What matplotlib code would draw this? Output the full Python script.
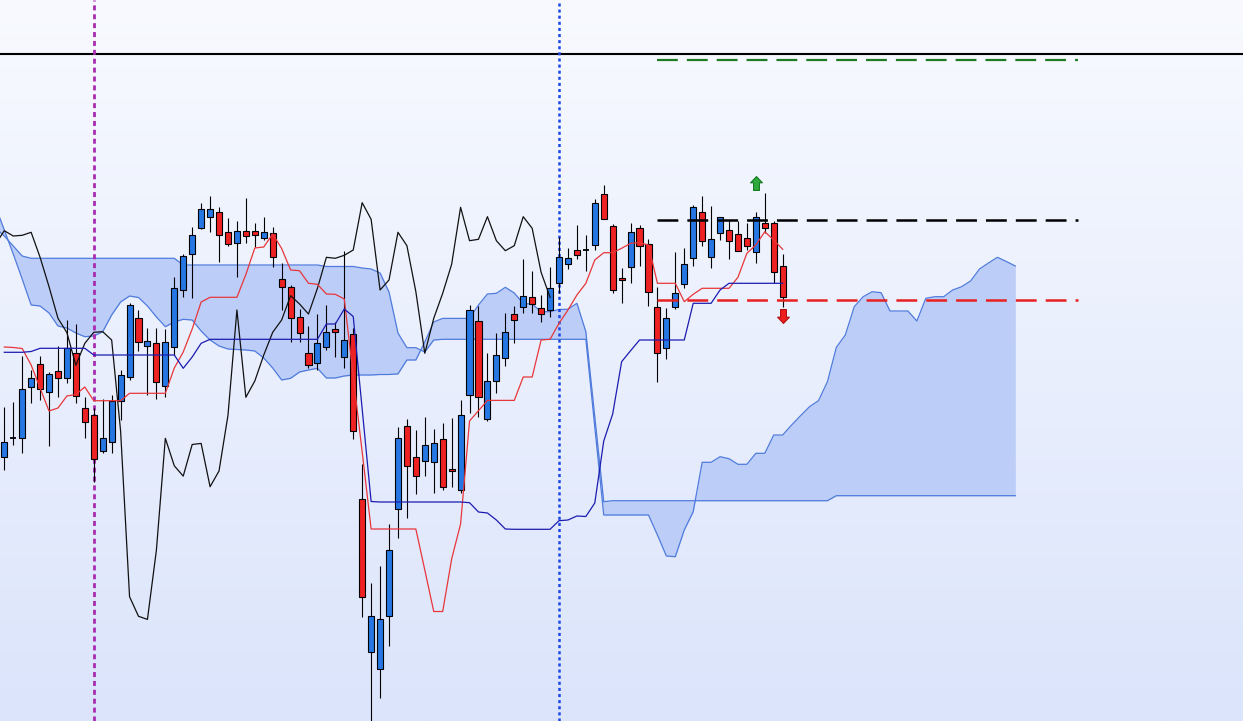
import numpy as np
import matplotlib.pyplot as plt
from matplotlib.colors import LinearSegmentedColormap
from matplotlib.path import Path

plt.rcParams['lines.scale_dashes'] = False

# candles (index 0..87)
opens = [264.3, 282.7, 283.3, 333.7, 356.7, 329.0, 350.3, 342.7, 367.7, 313.3,
         305.7, 270.0, 278.7, 320.0, 344.3, 402.7, 375.0, 377.7, 335.0, 373.7,
         430.7, 466.7, 492.7, 503.7, 509.3, 489.3, 477.7, 490.3, 490.3, 482.7,
         487.7, 441.7, 433.7, 404.0, 367.7, 357.7, 373.7, 391.7, 364.0, 387.0,
         221.8, 68.6, 52.0, 104.7, 212.1, 294.8, 263.8, 259.7, 258.6, 281.7,
         251.7, 231.0, 326.0, 399.7, 301.7, 339.7, 362.7, 406.7, 413.7, 423.7,
         412.7, 411.0, 437.7, 456.7, 470.7, 471.0, 476.0, 526.7, 495.3, 442.7,
         453.7, 492.7, 476.7, 413.7, 372.7, 413.7, 437.0, 462.7, 508.7, 464.3,
         487.7, 490.7, 486.7, 482.7, 468.7, 497.7, 497.7, 455.3]
highs = [314.3, 319.3, 365.0, 351.0, 365.0, 349.3, 375.3, 401.0, 397.0, 324.3,
         312.7, 322.0, 326.0, 351.0, 417.7, 411.0, 393.3, 393.3, 392.0, 444.3,
         467.0, 494.3, 518.3, 525.0, 514.3, 503.3, 500.0, 522.7, 498.3, 504.3,
         494.3, 458.0, 436.0, 412.0, 395.3, 407.0, 416.0, 399.3, 470.0, 393.0,
         256.9, 138.1, 155.3, 197.3, 294.1, 302.4, 290.7, 304.1, 292.4, 297.7,
         302.7, 321.0, 416.0, 415.0, 367.7, 388.3, 408.3, 415.0, 461.7, 450.0,
         426.0, 453.7, 484.3, 472.7, 496.0, 486.0, 521.7, 536.0, 497.0, 452.7,
         498.3, 495.7, 481.7, 433.7, 413.0, 468.7, 472.7, 516.0, 525.0, 515.0,
         504.3, 500.0, 500.0, 498.0, 509.3, 527.7, 500.0, 466.7]
lows = [251.0, 276.0, 267.7, 317.7, 321.0, 275.3, 324.3, 338.3, 317.7, 283.3,
        239.0, 268.3, 268.3, 301.0, 341.0, 370.3, 326.0, 322.0, 323.7, 366.0,
        424.3, 422.7, 491.7, 489.3, 459.3, 475.3, 444.3, 477.7, 474.3, 481.0,
        454.3, 411.0, 379.3, 379.3, 352.7, 351.0, 371.0, 364.3, 353.0, 282.0,
        104.4, 0.0, 22.8, 75.4, 182.9, 203.5, 227.0, 245.0, 227.6, 231.0,
        234.3, 227.7, 308.3, 304.3, 300.3, 327.7, 355.3, 378.3, 407.7, 408.3,
        399.3, 404.3, 427.7, 451.7, 462.0, 450.3, 471.0, 501.7, 427.7, 418.3,
        438.3, 455.0, 415.3, 339.3, 362.0, 411.7, 433.3, 455.0, 475.3, 452.7,
        481.0, 462.0, 470.3, 471.0, 457.7, 488.0, 437.7, 414.3]
closes = [278.7, 282.7, 331.7, 342.7, 331.7, 346.7, 342.7, 372.7, 325.0, 298.7,
          261.7, 282.7, 320.3, 345.7, 415.7, 378.7, 379.7, 339.0, 378.7, 432.7,
          464.7, 485.7, 511.7, 511.7, 486.0, 476.7, 490.3, 485.0, 485.7, 488.7,
          463.7, 434.3, 402.7, 388.3, 355.7, 377.7, 388.7, 389.3, 381.0, 290.0,
          124.3, 104.7, 101.6, 170.8, 282.7, 255.2, 244.9, 276.5, 277.6, 234.3,
          250.0, 305.7, 411.0, 323.7, 340.0, 366.0, 388.7, 401.0, 425.3, 417.0,
          407.0, 432.7, 463.7, 462.7, 465.7, 471.0, 518.3, 501.7, 431.0, 441.0,
          488.7, 475.3, 429.3, 367.7, 402.7, 427.7, 456.7, 513.7, 480.3, 481.7,
          504.3, 480.3, 470.3, 475.3, 504.3, 492.7, 448.7, 423.7]

# ichimoku lines
tenkan = [374.0, 373.5, 372.5, 356.0, 333.0, 310.0, 313.0, 325.0, 326.5, 334.0,
          320.3, 320.3, 320.3, 320.3, 327.7, 327.7, 327.7, 327.7, 327.7, 353.0,
          369.0, 392.0, 419.0, 423.7, 423.7, 423.7, 423.7, 446.5, 473.0, 474.0,
          487.0, 472.5, 451.0, 450.3, 437.7, 436.7, 427.0, 426.7, 422.0, 345.0,
          269.0, 192.0, 192.0, 192.0, 192.0, 192.0, 192.0, 151.0, 109.5, 109.5,
          162.0, 197.0, 300.0, 310.3, 320.6, 320.6, 320.6, 320.6, 344.0, 344.0,
          381.0, 381.7, 397.7, 411.0, 426.0, 437.7, 461.0, 468.3, 468.3, 472.7,
          477.7, 478.3, 476.0, 437.7, 437.7, 437.7, 419.3, 426.7, 432.7, 432.7,
          432.7, 432.7, 443.7, 467.7, 476.0, 489.3, 481.0, 471.7]
kijun = [368.7, 368.7, 368.7, 369.5, 372.7, 372.7, 372.7, 372.7, 372.7, 372.7,
         366.0, 366.0, 366.0, 366.0, 366.0, 366.0, 366.0, 366.0, 366.0, 366.0,
         352.7, 364.0, 377.7, 381.7, 381.7, 381.7, 381.7, 381.7, 381.7, 381.7,
         381.7, 381.7, 381.7, 381.7, 381.7, 381.7, 397.0, 397.0, 412.0, 404.5,
         312.0, 219.5, 219.0, 219.0, 219.0, 219.0, 219.0, 219.0, 219.0, 219.0,
         219.0, 219.0, 218.3, 209.0, 208.0, 201.0, 192.0, 191.7, 191.7, 191.7,
         191.7, 191.7, 200.3, 201.0, 205.0, 204.5, 218.0, 280.0, 307.0, 359.3,
         370.3, 381.0, 381.0, 381.0, 381.0, 381.0, 381.0, 417.7, 417.7, 417.7,
         431.0, 437.7, 437.7, 437.7, 437.7, 437.7, 437.7, 437.7]

# senkou spans, index -1..113 (shifted forward)
span_a = [515.0, 491.0, 467.0, 442.0, 416.0, 415.0, 408.0, 395.0, 393.0, 388.0,
          384.3, 385.0, 389.3, 406.0, 419.0, 425.0, 423.5, 415.0, 404.0, 394.3,
          399.0, 401.7, 401.0, 390.0, 381.0, 375.0, 372.0, 371.5, 371.0, 370.0,
          363.0, 353.0, 341.0, 342.7, 349.0, 351.0, 352.7, 343.0, 343.0, 345.0,
          346.0, 346.0, 346.0, 346.5, 346.5, 347.1, 361.0, 361.0, 379.0, 399.0,
          402.6, 402.6, 402.6, 402.6, 416.0, 427.0, 427.7, 433.7, 428.0, 417.5,
          417.0, 409.3, 409.3, 411.5, 411.7, 417.7, 389.3, 304.0, 219.3, 220.3,
          220.3, 220.3, 220.3, 220.3, 220.3, 220.3, 220.3, 220.3, 220.3, 220.3,
          220.3, 220.3, 220.3, 220.3, 220.3, 220.3, 220.3, 220.3, 220.3, 220.3,
          220.3, 220.3, 220.3, 220.3, 225.3, 225.3, 225.3, 225.3, 225.3, 225.3,
          225.3, 225.3, 225.3, 225.3, 225.3, 225.3, 225.3, 225.3, 225.3, 225.3,
          225.3, 225.3, 225.3, 225.3, 225.3]
span_b = [493.0, 485.0, 475.0, 465.0, 462.7, 462.7, 462.7, 462.7, 462.7, 462.7,
          462.7, 462.7, 462.7, 462.7, 462.7, 462.7, 462.7, 462.7, 462.7, 462.7,
          462.7, 456.0, 456.0, 456.0, 456.0, 456.0, 456.0, 456.0, 456.0, 456.0,
          456.0, 456.0, 456.0, 456.0, 456.0, 456.0, 456.0, 454.5, 454.5, 454.5,
          454.5, 453.0, 452.0, 448.0, 429.0, 388.0, 373.3, 373.3, 369.0, 381.0,
          381.7, 381.7, 381.7, 381.7, 381.7, 381.7, 381.7, 381.7, 381.7, 381.7,
          381.7, 381.7, 381.7, 381.7, 381.7, 381.7, 381.7, 294.0, 206.0, 206.0,
          206.0, 206.0, 206.0, 206.0, 186.0, 165.0, 164.3, 191.0, 209.3, 258.7,
          258.7, 264.3, 262.3, 256.7, 256.7, 267.7, 267.7, 286.0, 286.0, 296.0,
          305.3, 314.3, 320.3, 339.3, 373.7, 386.0, 414.3, 424.3, 429.3, 428.3,
          410.0, 410.0, 410.0, 400.0, 422.7, 424.3, 424.3, 431.0, 434.3, 440.0,
          452.0, 458.0, 463.7, 459.5, 455.0]
span_start = -1
chikou_shift = 26

# levels and markers
top_line = 667.0
level_tp = 661.0
level_open = 501.0
level_sl = 421.0
level_from, level_to = 73, 120
vline_magenta = 10
vline_blue = 62
buy_signal = (84, 538.0)
sell_signal = (87, 405.0)

fig = plt.figure(figsize=(12.43, 7.21), dpi=100)
ax = fig.add_axes([0, 0, 1, 1])
xmin, xmax = -0.48, 138.45
ax.set_xlim(xmin, xmax)
ax.set_ylim(0, 721)
ax.axis('off')

# background gradient
cmap = LinearSegmentedColormap.from_list('bg', ['#dbe4fb', '#f8faff'])
grad = np.linspace(0, 1, 256).reshape(-1, 1)
ax.imshow(grad, extent=[xmin, xmax, 0, 721], aspect='auto', origin='lower',
          cmap=cmap, zorder=0)

# cloud
xs = np.arange(len(span_a)) + span_start
ax.fill_between(xs, span_a, span_b, color='#bccdf8', lw=0, zorder=1)
ax.plot(xs, span_a, color='#4f7bdc', lw=0.9, zorder=2)
ax.plot(xs, span_b, color='#4f7bdc', lw=0.9, zorder=2)

ax.axhline(top_line, color='black', lw=1.5, zorder=3)
ax.axvline(vline_magenta, color='#a82cb0', lw=2.0, dashes=(3.6, 2.8), zorder=3)
ax.axvline(vline_blue, color='#1a46e6', lw=1.8, dashes=(2.2, 2.2), zorder=3)

# candles
o, h, l, c = map(np.array, (opens, highs, lows, closes))
x = np.arange(len(o))
up = c > o
dn = c < o
flat = c == o
w = 0.68
ax.vlines(x, l, h, color='black', lw=0.8, zorder=4)
ax.bar(x[up], (c - o)[up], bottom=o[up], width=w, color='#2677e3',
       edgecolor='black', lw=0.8, zorder=5)
ax.bar(x[dn], (o - c)[dn], bottom=c[dn], width=w, color='#ee2222',
       edgecolor='black', lw=0.8, zorder=5)
ax.hlines(o[flat], x[flat] - w / 2, x[flat] + w / 2, color='black', lw=1.3, zorder=5)

# chikou, tenkan, kijun
start = chikou_shift + span_start
ax.plot(np.arange(len(c) - start) + span_start, c[start:], color='#111111', lw=0.9, zorder=6)
ax.plot(x, tenkan, color='#e8363a', lw=0.9, zorder=6)
ax.plot(x, kijun, color='#1c1cb0', lw=0.9, zorder=6)

# trade levels
ax.plot([level_from, level_to], [level_tp, level_tp], color='#1f7a24', lw=1.6,
        dashes=(15, 6.5), zorder=7)
ax.plot([level_from, level_to], [level_open, level_open], color='black', lw=1.8,
        dashes=(15, 6.5), zorder=7)
ax.plot([level_from, level_to], [level_sl, level_sl], color='#e82020', lw=1.8,
        dashes=(15, 6.5), zorder=7)

# signal arrows
arrow_up = Path([(0, 1), (0.85, 0.1), (0.42, 0.1), (0.42, -1), (-0.42, -1),
                 (-0.42, 0.1), (-0.85, 0.1), (0, 1)], closed=True)
arrow_dn = Path([(vx, -vy) for vx, vy in arrow_up.vertices], closed=True)
ax.plot(*buy_signal, marker=arrow_up, markersize=10, color='#2eaa3c',
        markeredgecolor='#177a22', markeredgewidth=0.8, zorder=8)
ax.plot(*sell_signal, marker=arrow_dn, markersize=10, color='#f01e1e',
        markeredgecolor='#b01010', markeredgewidth=0.8, zorder=8)

plt.savefig('out.png', dpi=100)
plt.close()
